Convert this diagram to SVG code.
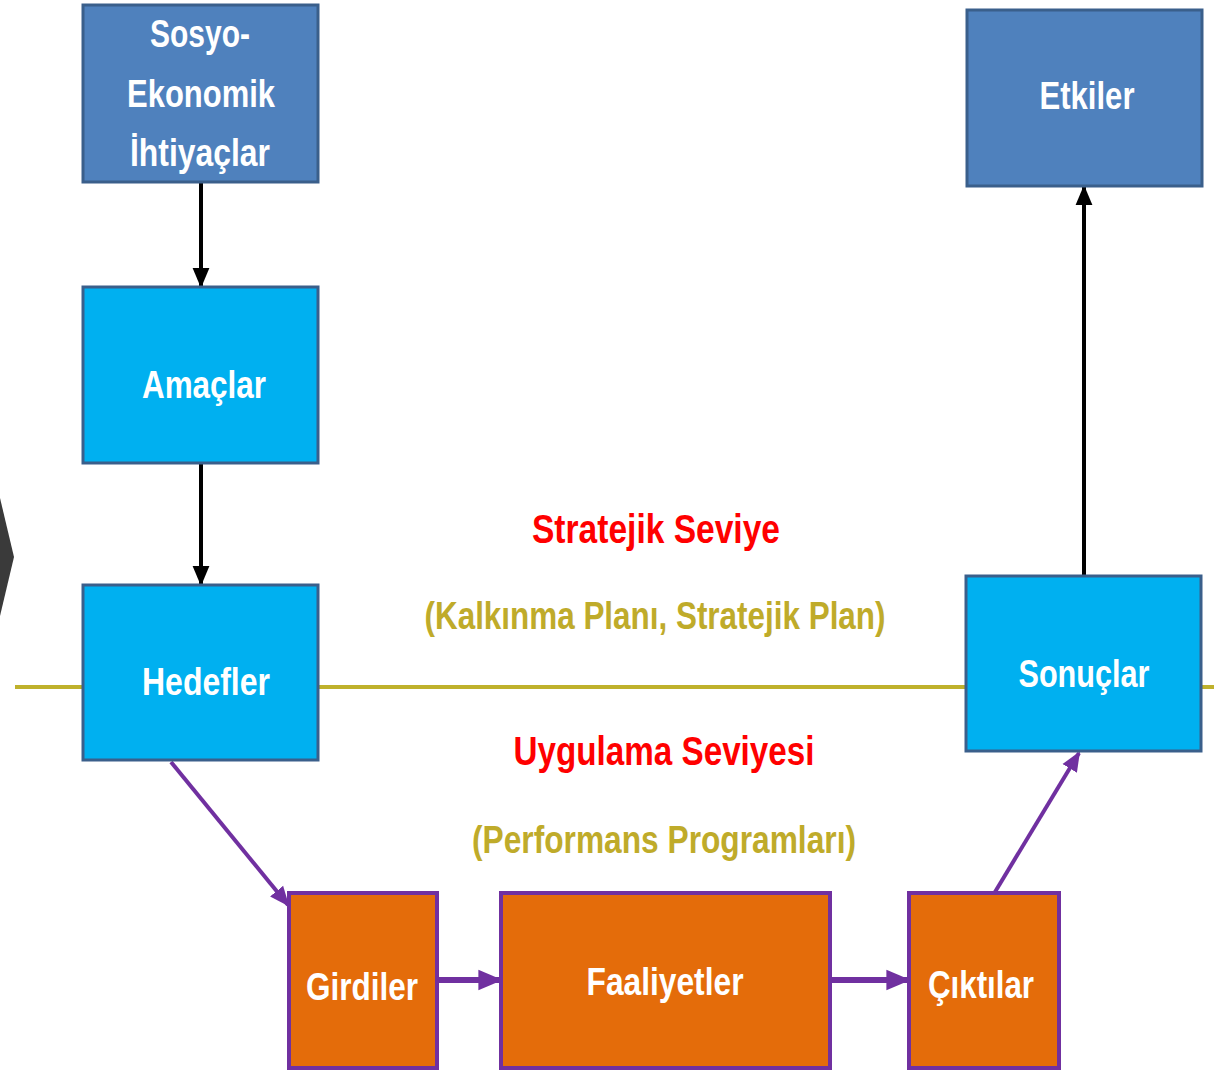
<svg xmlns="http://www.w3.org/2000/svg" width="1214" height="1070" viewBox="0 0 1214 1070">
<defs>
<style>
.bd{fill:#4F81BD;stroke:#3A5F8B;stroke-width:3}
.bl{fill:#00B0F0;stroke:#3A5F8B;stroke-width:3}
.or{fill:#E46C0A;stroke:#7030A0;stroke-width:4}
.lb{font-family:"Liberation Sans",Arial,sans-serif;font-weight:bold;font-size:38px;fill:#FFFFFF;text-anchor:middle}
.red{font-family:"Liberation Sans",Arial,sans-serif;font-weight:bold;font-size:41px;fill:#FF0000;text-anchor:middle}
.ol{font-family:"Liberation Sans",Arial,sans-serif;font-weight:bold;font-size:39px;fill:#BFAB2A;text-anchor:middle}
.ka{stroke:#000;stroke-width:4;fill:none}
.pa{stroke:#7030A0;stroke-width:4;fill:none}
.ph{stroke:#7030A0;stroke-width:6;fill:none}
</style>
<marker id="ak" markerWidth="5" markerHeight="5" refX="4.5" refY="2.5" orient="auto" markerUnits="strokeWidth" viewBox="0 0 5 5">
<path d="M0,0.4 L5,2.5 L0,4.6 Z" fill="#000"/>
</marker>
<marker id="ap" markerWidth="5" markerHeight="5" refX="4.5" refY="2.5" orient="auto" markerUnits="strokeWidth" viewBox="0 0 5 5">
<path d="M0,0.4 L5,2.5 L0,4.6 Z" fill="#7030A0"/>
</marker>
<marker id="aph" markerWidth="4" markerHeight="4" refX="3.6" refY="2" orient="auto" markerUnits="strokeWidth" viewBox="0 0 4 4">
<path d="M0,0.3 L4,2 L0,3.7 Z" fill="#7030A0"/>
</marker>
</defs>
<rect width="1214" height="1070" fill="#FFFFFF"/>
<polygon points="0,498 14,557 0,616" fill="#3A3A3A"/>
<line x1="15" y1="687" x2="1214" y2="687" stroke="#BFB12C" stroke-width="4"/>
<g id="connectors">
<line class="ka" x1="201" y1="183" x2="201" y2="286" marker-end="url(#ak)"/>
<line class="ka" x1="201" y1="464" x2="201" y2="584" marker-end="url(#ak)"/>
<line class="ka" x1="1084" y1="576" x2="1084" y2="187" marker-end="url(#ak)"/>
<line class="pa" x1="171" y1="762" x2="288" y2="905" marker-end="url(#ap)"/>
<line class="pa" x1="995" y1="892" x2="1079" y2="753" marker-end="url(#ap)"/>
<line class="ph" x1="438" y1="980" x2="500" y2="980" marker-end="url(#aph)"/>
<line class="ph" x1="831" y1="980" x2="908" y2="980" marker-end="url(#aph)"/>
</g>
<g id="sosyo">
<rect class="bd" x="83" y="5" width="235" height="177"/>
<text class="lb" x="200" y="47" textLength="100" lengthAdjust="spacingAndGlyphs">Sosyo-</text>
<text class="lb" x="201" y="107" textLength="148" lengthAdjust="spacingAndGlyphs">Ekonomik</text>
<text class="lb" x="200" y="166" textLength="140" lengthAdjust="spacingAndGlyphs">İhtiyaçlar</text>
</g>
<g id="amaclar">
<rect class="bl" x="83" y="287" width="235" height="176"/>
<text class="lb" x="204" y="398" textLength="124" lengthAdjust="spacingAndGlyphs">Amaçlar</text>
</g>
<g id="hedefler">
<rect class="bl" x="83" y="585" width="235" height="175"/>
<text class="lb" x="206" y="695" textLength="128" lengthAdjust="spacingAndGlyphs">Hedefler</text>
</g>
<g id="etkiler">
<rect class="bd" x="967" y="10" width="235" height="176"/>
<text class="lb" x="1087" y="109" textLength="95" lengthAdjust="spacingAndGlyphs">Etkiler</text>
</g>
<g id="sonuclar">
<rect class="bl" x="966" y="576" width="235" height="175"/>
<text class="lb" x="1084" y="687" textLength="131" lengthAdjust="spacingAndGlyphs">Sonuçlar</text>
</g>
<g id="girdiler">
<rect class="or" x="289" y="893" width="148" height="175"/>
<text class="lb" x="362" y="1000" textLength="112" lengthAdjust="spacingAndGlyphs">Girdiler</text>
</g>
<g id="faaliyetler">
<rect class="or" x="501" y="893" width="329" height="175"/>
<text class="lb" x="665" y="995" textLength="157" lengthAdjust="spacingAndGlyphs">Faaliyetler</text>
</g>
<g id="ciktilar">
<rect class="or" x="909" y="893" width="150" height="175"/>
<text class="lb" x="981" y="998" textLength="106" lengthAdjust="spacingAndGlyphs">Çıktılar</text>
</g>
<g id="labels">
<text class="red" x="656" y="543" textLength="248" lengthAdjust="spacingAndGlyphs">Stratejik Seviye</text>
<text class="ol" x="655" y="629" textLength="461" lengthAdjust="spacingAndGlyphs">(Kalkınma Planı, Stratejik Plan)</text>
<text class="red" x="664" y="765" textLength="301" lengthAdjust="spacingAndGlyphs">Uygulama Seviyesi</text>
<text class="ol" x="664" y="853" textLength="384" lengthAdjust="spacingAndGlyphs">(Performans Programları)</text>
</g>
</svg>
